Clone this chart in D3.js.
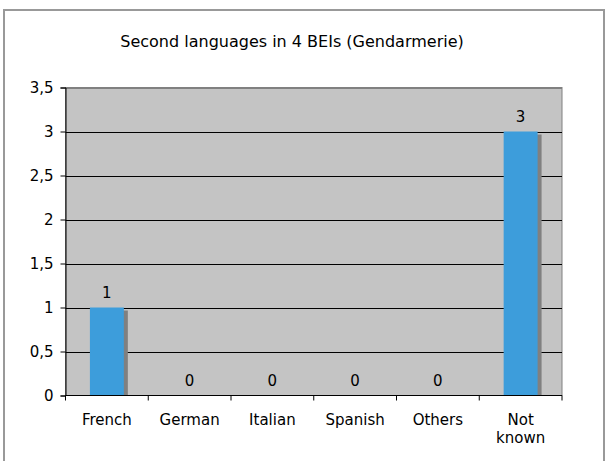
<!DOCTYPE html>
<html><head><meta charset="utf-8">
<script src="https://cdn.jsdelivr.net/npm/d3@7/dist/d3.min.js"></script>
<style>body{margin:0;background:#fff}svg{display:block}text{font-family:"DejaVu Sans",Verdana,sans-serif;fill:#000}</style>
</head><body>
<svg id="c" width="606" height="461"></svg>
<script>
const title = "Second languages in 4 BEIs (Gendarmerie)";
const categories = ["French", "German", "Italian", "Spanish", "Others", "Not known"];
const values = [1, 0, 0, 0, 0, 3];
const yTicks = [0, 0.5, 1, 1.5, 2, 2.5, 3, 3.5];

const FS = "15px";
const svg = d3.select("#c");
const m = {left: 65.5, right: 562, top: 87.5, bottom: 395.5};

// outer frame
svg.append("rect").attr("x", 4).attr("y", 10).attr("width", 600).attr("height", 452)
  .attr("fill", "#fff").attr("stroke", "#999").attr("stroke-width", 2);

svg.append("text").attr("x", 292).attr("y", 47).attr("text-anchor", "middle")
  .style("font-size", "16px").text(title);

const x = d3.scaleBand().domain(categories).range([m.left, m.right]).paddingInner(0.59).paddingOuter(0.295);
const xc = d3.scaleBand().domain(categories).range([m.left, m.right]);
const y = d3.scaleLinear().domain([0, 3.5]).range([m.bottom, m.top]);

// plot area
svg.append("rect").attr("x", m.left).attr("y", m.top).attr("width", m.right - m.left)
  .attr("height", m.bottom - m.top).attr("fill", "#c4c4c4").attr("stroke", "#808080").attr("stroke-width", 1);

// gridlines
svg.append("g").selectAll("line").data(yTicks.filter(d => d > 0)).join("line")
  .attr("x1", m.left).attr("x2", m.right)
  .attr("y1", d => Math.round(y(d)) + 0.5).attr("y2", d => Math.round(y(d)) + 0.5)
  .attr("stroke", d => d === 3.5 ? "#808080" : "#000").attr("stroke-width", 1);

const rows = values.map((v, i) => ({c: categories[i], v}));
// shadows
svg.append("g").selectAll("rect").data(rows).join("rect")
  .attr("x", d => x(d.c) + 4).attr("y", d => y(d.v) + 3)
  .attr("width", x.bandwidth()).attr("height", d => Math.max(0, y(0) - y(d.v) - 3))
  .attr("fill", "#808080");
// bars
svg.append("g").selectAll("rect").data(rows).join("rect")
  .attr("x", d => x(d.c)).attr("y", d => y(d.v))
  .attr("width", x.bandwidth()).attr("height", d => y(0) - y(d.v))
  .attr("fill", "#3d9ddb");

// y axis
const ya = d3.axisLeft(y).tickValues(yTicks).tickSize(5).tickPadding(7)
  .tickFormat(d => String(d).replace(".", ","));
const yg = svg.append("g").attr("transform", `translate(${m.left},0)`).call(ya);
yg.attr("font-size", null).attr("font-family", null);
yg.select(".domain").attr("stroke", "#000");
yg.selectAll(".tick line").attr("stroke", "#000");
yg.selectAll("text").style("font-size", FS);

// x axis
const xa = d3.axisBottom(xc).tickSize(5).tickFormat("");
const xg = svg.append("g").attr("transform", `translate(0,${m.bottom})`).call(xa);
xg.selectAll(".tick").remove();
xg.select(".domain").attr("d", `M${m.left},5V0H${m.right}V5`).attr("stroke", "#000").attr("fill", "none");
xg.selectAll(".xt").data(categories.slice(1)).join("line").attr("class", "xt")
  .attr("x1", d => xc(d)).attr("x2", d => xc(d)).attr("y1", 0).attr("y2", 5).attr("stroke", "#000");

// category labels
const lbl = svg.append("g").selectAll("text").data(categories).join("text")
  .attr("x", d => xc(d) + xc.bandwidth() / 2).attr("y", 425)
  .attr("text-anchor", "middle").style("font-size", FS);
lbl.each(function(d) {
  const parts = d === "Not known" ? ["Not", "known"] : [d];
  const t = d3.select(this);
  parts.forEach((p, i) => t.append("tspan").attr("x", xc(d) + xc.bandwidth() / 2).attr("dy", i ? 18 : 0).text(p));
});

// value labels
svg.append("g").selectAll("text").data(rows).join("text")
  .attr("x", d => xc(d.c) + xc.bandwidth() / 2).attr("y", d => y(d.v) - 10)
  .attr("text-anchor", "middle").style("font-size", FS).text(d => d.v);
</script>
</body></html>
